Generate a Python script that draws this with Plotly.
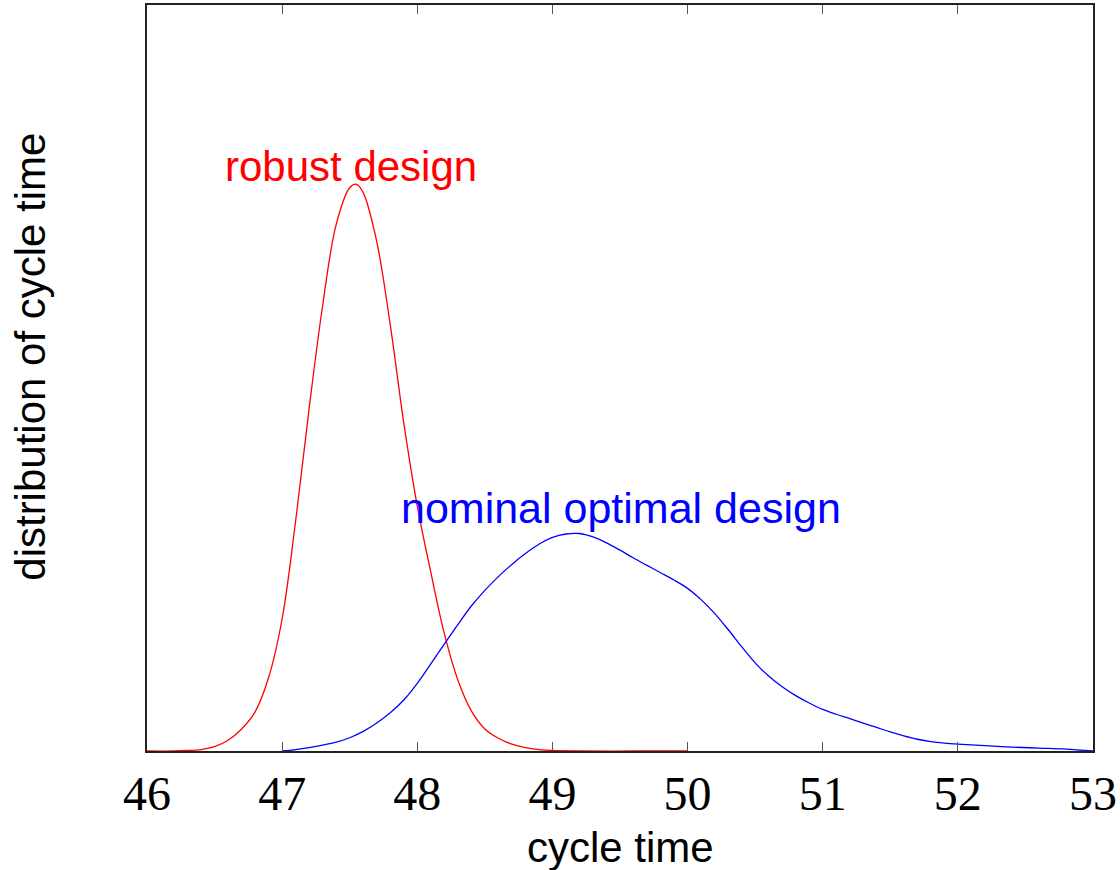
import plotly.graph_objects as go

# cycle time values (x) and distribution heights (density-like units)
robust_x = [46.0, 46.2, 46.3, 46.4, 46.5, 46.6, 46.7, 46.8, 46.9, 47.0, 47.1, 47.2, 47.3,
            47.4, 47.5, 47.55, 47.6, 47.7, 47.8, 47.9, 48.0, 48.1, 48.2, 48.3, 48.4, 48.5,
            48.6, 48.7, 48.8, 48.9, 49.0, 49.2, 49.6, 50.0]
robust_y = [0.000, 0.000, 0.001, 0.003, 0.009, 0.022, 0.045, 0.080, 0.150, 0.270, 0.470,
            0.700, 0.910, 1.075, 1.150, 1.157, 1.140, 1.040, 0.870, 0.670, 0.500, 0.365,
            0.240, 0.145, 0.082, 0.045, 0.026, 0.014, 0.007, 0.003, 0.001, 0.000, 0.000, 0.000]

nominal_x = [47.0, 47.1, 47.2, 47.3, 47.4, 47.5, 47.6, 47.7, 47.8, 47.9, 48.0, 48.1, 48.2,
             48.3, 48.4, 48.5, 48.6, 48.7, 48.8, 48.9, 49.0, 49.1, 49.2, 49.3, 49.4, 49.5,
             49.6, 49.7, 49.8, 49.9, 50.0, 50.1, 50.2, 50.3, 50.4, 50.5, 50.6, 50.7, 50.8,
             50.9, 51.0, 51.1, 51.2, 51.3, 51.4, 51.5, 51.6, 51.7, 51.8, 51.9, 52.0, 52.2,
             52.4, 52.6, 52.8, 53.0]
nominal_y = [0.000, 0.003, 0.007, 0.012, 0.018, 0.027, 0.040, 0.057, 0.078, 0.104, 0.138,
             0.178, 0.218, 0.258, 0.296, 0.328, 0.356, 0.381, 0.403, 0.422, 0.436, 0.443,
             0.444, 0.437, 0.425, 0.410, 0.394, 0.379, 0.364, 0.349, 0.332, 0.309, 0.281,
             0.248, 0.213, 0.180, 0.153, 0.131, 0.113, 0.098, 0.085, 0.075, 0.066, 0.057,
             0.048, 0.039, 0.031, 0.024, 0.019, 0.016, 0.014, 0.011, 0.008, 0.006, 0.004,
             0.000]

x_ticks = [46, 47, 48, 49, 50, 51, 52, 53]

fig = go.Figure()
fig.add_trace(go.Scatter(x=robust_x, y=robust_y, mode="lines",
                         line=dict(color="#ff0000", width=1.3, shape="spline", smoothing=1.0),
                         showlegend=False, hoverinfo="skip"))
fig.add_trace(go.Scatter(x=nominal_x, y=nominal_y, mode="lines",
                         line=dict(color="#0000ff", width=1.3, shape="spline", smoothing=1.0),
                         showlegend=False, hoverinfo="skip"))

sans = "Liberation Sans"
fig.add_annotation(x=47.51, y=1.193, xref="x", yref="y", text="robust design",
                   showarrow=False, font=dict(family=sans, size=42, color="#ff0000"),
                   xanchor="center", yanchor="middle")
fig.add_annotation(x=49.51, y=0.497, xref="x", yref="y", text="nominal optimal design",
                   showarrow=False, font=dict(family=sans, size=43, color="#0000ff"),
                   xanchor="center", yanchor="middle")
fig.add_annotation(x=0.5, y=-0.1297, xref="paper", yref="paper", text="cycle time",
                   showarrow=False, font=dict(family=sans, size=42, color="black"),
                   xanchor="center", yanchor="middle")
fig.add_annotation(x=-0.1233, y=0.529, xref="paper", yref="paper",
                   text="distribution of cycle time", textangle=-90,
                   showarrow=False, font=dict(family=sans, size=42, color="black"),
                   xanchor="center", yanchor="middle")

fig.update_xaxes(range=[46, 53], tickvals=x_ticks, ticktext=[str(t) for t in x_ticks],
                 ticks="inside", ticklen=9, tickwidth=1.3, tickcolor="#555555",
                 showline=True, linecolor="#222222", linewidth=1.5, mirror="ticks",
                 showgrid=False, zeroline=False,
                 tickfont=dict(family="Liberation Serif", size=48, color="black"))
fig.update_yaxes(range=[0, 1.523], showticklabels=False, ticks="",
                 showline=True, linecolor="#222222", linewidth=1.5, mirror=True,
                 showgrid=False, zeroline=False)

fig.update_layout(width=1120, height=870, margin=dict(l=147, r=24, t=3, b=119),
                  plot_bgcolor="white", paper_bgcolor="white")

fig.write_html("out.html")
